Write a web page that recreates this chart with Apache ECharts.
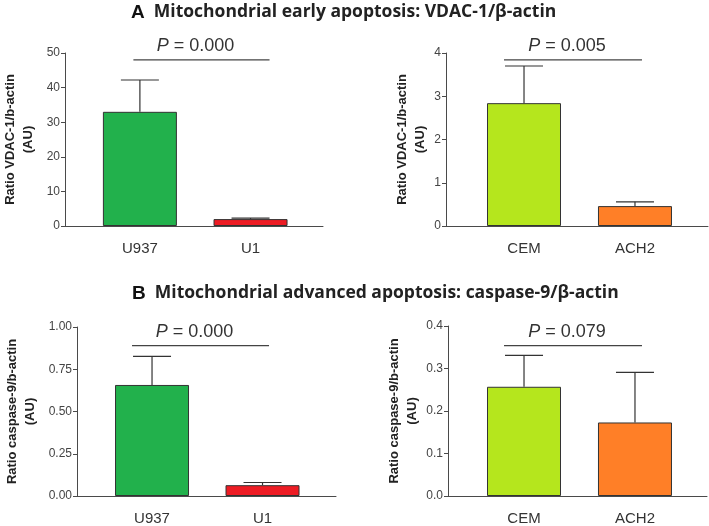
<!DOCTYPE html>
<html>
<head>
<meta charset="utf-8">
<script src="https://cdn.jsdelivr.net/npm/echarts@6/dist/echarts.min.js"></script>
<style>html,body{margin:0;padding:0;background:#fff}#c{width:709px;height:526px}</style>
</head>
<body>
<div id="c"></div>
<script>
// ---- data ----
const titleA = 'Mitochondrial early apoptosis: VDAC-1/β-actin';
const titleB = 'Mitochondrial advanced apoptosis: caspase-9/β-actin';
const catsLeft = ['U937', 'U1'];
const catsRight = ['CEM', 'ACH2'];
const vdacLeftMean = [33.0, 2.0];
const vdacLeftErr = [9.2, 0.3];
const vdacRightMean = [2.84, 0.46];
const vdacRightErr = [0.86, 0.10];
const cas9LeftMean = [0.657, 0.064];
const cas9LeftErr = [0.169, 0.016];
const cas9RightMean = [0.257, 0.173];
const cas9RightErr = [0.074, 0.118];
const pValues = ['0.000', '0.005', '0.000', '0.079'];
const pBracketY = [48, 3.84, 0.89, 0.354];
const yMaxes = [50, 4, 1, 0.4];
const yIntervals = [10, 1, 0.25, 0.1];
const yDecimals = [0, 0, 2, 1];
const yNames = ['Ratio VDAC-1/b-actin\n(AU)', 'Ratio VDAC-1/b-actin\n(AU)', 'Ratio caspase-9/b-actin\n(AU)', 'Ratio caspase-9/b-actin\n(AU)'];
const colorsLeft = ['#22b14c', '#ed1c24'];
const colorsRight = ['#b5e61d', '#ff7f27'];

// ---- layout ----
const panels = [
  {cats: catsLeft, mean: vdacLeftMean, err: vdacLeftErr, colors: colorsLeft,
   grid: {left: 63, top: 53, width: 260, height: 173}, xMin: -0.677, xMax: 1.655, nameGap: 28, br: [-6.5, 19]},
  {cats: catsRight, mean: vdacRightMean, err: vdacRightErr, colors: colorsRight,
   grid: {left: 446, top: 53, width: 262, height: 173}, xMin: -0.703, xMax: 1.658, nameGap: 17, br: [-20, 7]},
  {cats: catsLeft, mean: cas9LeftMean, err: cas9LeftErr, colors: colorsLeft,
   grid: {left: 77, top: 327, width: 259, height: 172}, xMin: -0.679, xMax: 1.665, nameGap: 38, br: [-20, 6.5]},
  {cats: catsRight, mean: cas9RightMean, err: cas9RightErr, colors: colorsRight,
   grid: {left: 448, top: 326, width: 259, height: 173}, xMin: -0.685, xMax: 1.649, nameGap: 27, br: [-20, 7]}
];

const axisColor = '#4a4a4a';
const grids = [], xAxes = [], yAxes = [], series = [];

panels.forEach((p, i) => {
  grids.push(p.grid);
  xAxes.push({
    type: 'value', gridIndex: i, min: p.xMin, max: p.xMax,
    splitLine: {show: false},
    axisLine: {show: true, onZero: false, lineStyle: {color: axisColor, width: 1}},
    axisTick: {show: false},
    axisLabel: {
      customValues: [0, 1], margin: 15,
      formatter: v => p.cats[Math.round(v)] || '',
      fontFamily: 'Liberation Sans, Arial', fontSize: 15, color: '#333'
    }
  });
  yAxes.push({
    type: 'value', gridIndex: i, min: 0, max: yMaxes[i], interval: yIntervals[i],
    splitLine: {show: false},
    axisLine: {show: true, onZero: false, lineStyle: {color: axisColor, width: 1}},
    axisTick: {show: true, length: 4, lineStyle: {color: axisColor}},
    axisLabel: {
      margin: 5, fontFamily: 'Liberation Sans, Arial', fontSize: 12, color: '#444',
      formatter: v => v.toFixed(yDecimals[i])
    },
    name: yNames[i], nameLocation: 'middle', nameRotate: 90, nameGap: p.nameGap,
    nameTextStyle: {fontFamily: 'Liberation Sans, Arial', fontWeight: 'bold', fontSize: 13, color: '#222', lineHeight: 18}
  });
  series.push({
    type: 'bar', xAxisIndex: i, yAxisIndex: i, barWidth: 74,
    data: p.mean.map((m, k) => ({value: [k, m], itemStyle: {color: p.colors[k]}})),
    itemStyle: {borderColor: '#333', borderWidth: 1},
    silent: true, z: 2
  });
  series.push({
    type: 'custom', xAxisIndex: i, yAxisIndex: i, z: 3, silent: true,
    data: p.mean.map((m, k) => [k, m, p.err[k]]),
    renderItem: (params, api) => {
      const x = api.value(0), m = api.value(1), e = api.value(2);
      const a = api.coord([x, m]), b = api.coord([x, m + e]);
      const st = {stroke: '#333', lineWidth: 1.2};
      return {type: 'group', children: [
        {type: 'line', shape: {x1: a[0], y1: a[1], x2: b[0], y2: b[1]}, style: st},
        {type: 'line', shape: {x1: b[0] - 19, y1: b[1], x2: b[0] + 19, y2: b[1]}, style: st}
      ]};
    }
  });
  series.push({
    type: 'custom', xAxisIndex: i, yAxisIndex: i, z: 3, silent: true,
    data: [[0, 1, pBracketY[i]]],
    renderItem: (params, api) => {
      const a = api.coord([api.value(0), api.value(2)]);
      const b = api.coord([api.value(1), api.value(2)]);
      const x1 = a[0] + p.br[0], x2 = b[0] + p.br[1];
      return {type: 'group', children: [
        {type: 'line', shape: {x1: x1, y1: a[1], x2: x2, y2: a[1]}, style: {stroke: '#444', lineWidth: 1.2}},
        {type: 'text', style: {
          text: '{i|P} = ' + pValues[i], x: (x1 + x2) / 2 - 6, y: a[1] - 5,
          align: 'center', verticalAlign: 'bottom',
          font: '18px "Liberation Sans", Arial', fill: '#333',
          rich: {i: {fontStyle: 'italic', fontSize: 18, fontFamily: 'Liberation Sans', fill: '#333'}}
        }}
      ]};
    }
  });
});

const titleStyle = {
  fontFamily: 'Open Sans', fontWeight: 'bold', fontSize: 17.5, color: '#222',
  rich: {L: {fontFamily: 'Liberation Sans, Arial', fontWeight: 'bold', fontSize: 19, color: '#111'}}
};
const chart = echarts.init(document.getElementById('c'));
chart.setOption({
  animation: false,
  backgroundColor: '#fff',
  title: [
    {text: '{L|A}  ' + titleA, left: 131, top: 3, padding: 0, textStyle: titleStyle},
    {text: '{L|B}  ' + titleB, left: 132, top: 284, padding: 0, textStyle: titleStyle}
  ],
  grid: grids, xAxis: xAxes, yAxis: yAxes, series: series
});
</script>
</body>
</html>
